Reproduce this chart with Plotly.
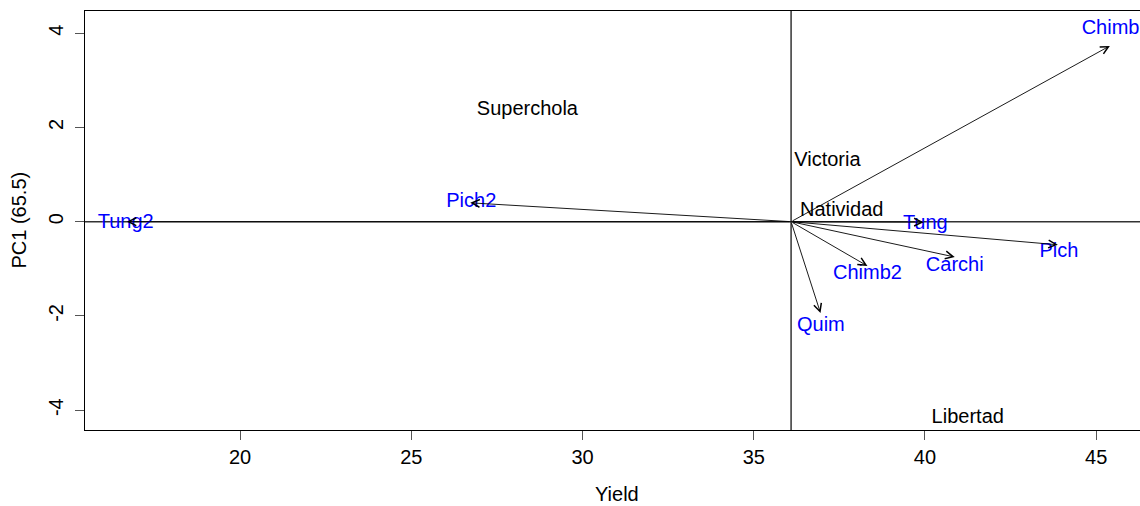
import plotly.graph_objects as go

# Environments (blue labels) and their arrow tips
env_names = ["Chimb", "Pich2", "Tung2", "Tung", "Pich", "Carchi", "Chimb2", "Quim"]
env_yield = [45.42, 26.75, 16.66, 40.01, 43.91, 40.87, 38.32, 36.96]
env_pc1_label = [4.08, 0.42, -0.03, -0.04, -0.65, -0.93, -1.11, -2.22]
env_pc1_arrow = [3.73, 0.40, 0.00, -0.01, -0.49, -0.75, -0.94, -1.94]
env_yield_arrow = [45.40, 26.72, 16.69, 39.96, 43.88, 40.87, 38.32, 36.95]

# Genotypes (black labels)
gen_names = ["Superchola", "Victoria", "Natividad", "Libertad"]
gen_yield = [28.39, 37.15, 37.57, 41.25]
gen_pc1 = [2.38, 1.28, 0.22, -4.16]

grand_mean = 36.09
x_ticks = [20, 25, 30, 35, 40, 45]
y_ticks = [-4, -2, 0, 2, 4]
y_tick_labels = ["-4", "-2", "0", "2", "4"]

FONT = "Liberation Sans, Arial, sans-serif"

fig = go.Figure()

fig.add_trace(go.Scatter(
    x=gen_yield, y=gen_pc1, text=gen_names, mode="text",
    textposition="middle center",
    textfont=dict(family=FONT, size=20, color="black"),
    showlegend=False, hoverinfo="skip"))

fig.add_trace(go.Scatter(
    x=env_yield, y=env_pc1_label, text=env_names, mode="text",
    textposition="middle center",
    textfont=dict(family=FONT, size=20, color="#0000FF"),
    showlegend=False, hoverinfo="skip"))

# reference lines
fig.add_shape(type="line", xref="paper", yref="y", x0=0, x1=1, y0=0, y1=0,
              line=dict(color="#333333", width=1.6), layer="below")
fig.add_shape(type="line", xref="x", yref="paper", x0=grand_mean, x1=grand_mean,
              y0=0, y1=1, line=dict(color="black", width=1.2), layer="below")

annotations = []
for xe, ye in zip(env_yield_arrow, env_pc1_arrow):
    annotations.append(dict(
        x=xe, y=ye, xref="x", yref="y",
        ax=grand_mean, ay=0, axref="x", ayref="y",
        text="", showarrow=True, arrowhead=5, arrowsize=1.7,
        arrowwidth=0.9, arrowcolor="black", standoff=0, startstandoff=0))

annotations.append(dict(
    text="Yield", xref="paper", yref="paper", x=0.504, y=0,
    yshift=-64, xanchor="center", yanchor="middle", showarrow=False,
    font=dict(family=FONT, size=20, color="black")))
annotations.append(dict(
    text="PC1 (65.5)", xref="paper", yref="paper", x=0, y=0.5,
    xshift=-67, xanchor="center", yanchor="middle", textangle=-90,
    showarrow=False, font=dict(family=FONT, size=20, color="black")))

fig.update_layout(
    width=1140, height=506,
    margin=dict(l=85, r=0, t=11, b=76),
    paper_bgcolor="white", plot_bgcolor="white",
    annotations=annotations,
    font=dict(family=FONT, size=20, color="black"),
    xaxis=dict(range=[15.47, 46.28], tickvals=x_ticks, ticks="outside",
               ticklen=9, tickwidth=1, tickcolor="#555555",
               showgrid=False, zeroline=False, showline=True,
               linecolor="black", linewidth=1.2, mirror=True,
               ticklabelstandoff=0,
               tickfont=dict(family=FONT, size=20, color="black")),
    yaxis=dict(range=[-4.42, 4.47], tickvals=y_ticks, ticktext=y_tick_labels,
               ticks="outside",
               ticklen=9, tickwidth=1, tickcolor="#555555",
               showgrid=False, zeroline=False, showline=True,
               linecolor="black", linewidth=1.2, mirror=False,
               tickangle=-90, ticklabelstandoff=4,
               tickfont=dict(family=FONT, size=20, color="black")),
)

fig.write_html("out.html", config={"displayModeBar": False},
               post_script="document.body.style.margin='0';document.body.style.overflow='hidden';")
